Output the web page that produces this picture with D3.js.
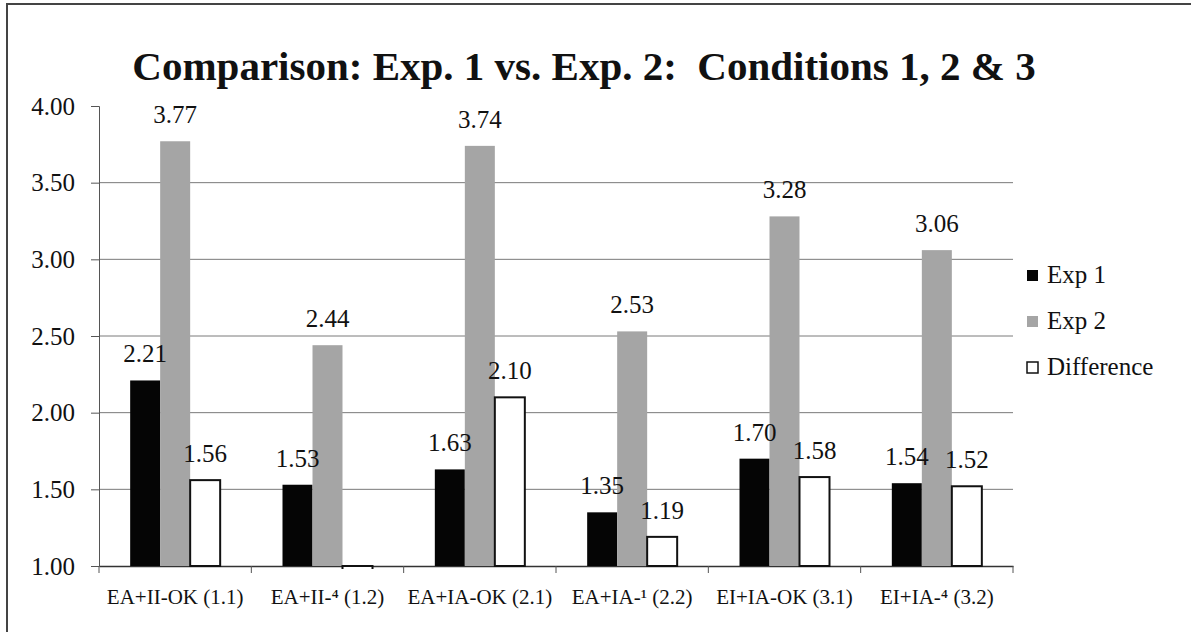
<!DOCTYPE html>
<html>
<head>
<meta charset="utf-8">
<script src="https://cdn.jsdelivr.net/npm/d3@7"></script>
<style>
  body { margin: 0; background: #fff; }
</style>
</head>
<body>
<svg width="1191" height="632"></svg>
<script>
var categories = ["EA+II-OK (1.1)", "EA+II-\u2074 (1.2)", "EA+IA-OK (2.1)", "EA+IA-\u00b9 (2.2)", "EI+IA-OK (3.1)", "EI+IA-\u2074 (3.2)"];
var exp1 = [2.21, 1.53, 1.63, 1.35, 1.70, 1.54];
var exp2 = [3.77, 2.44, 3.74, 2.53, 3.28, 3.06];
var diff = [1.56, 0.91, 2.10, 1.19, 1.58, 1.52];
var seriesNames = ["Exp 1", "Exp 2", "Difference"];
var yTicks = [1.00, 1.50, 2.00, 2.50, 3.00, 3.50, 4.00];

var SERIF = "'Liberation Serif', 'Times New Roman', serif";

var svg = d3.select("svg"),
    width = +svg.attr("width"),
    height = +svg.attr("height");

var margin = {left: 99, right: 178, top: 106, bottom: 66};
var plotW = width - margin.left - margin.right,
    plotH = height - margin.top - margin.bottom;

var fills = ["#050505", "#a5a5a5", "#ffffff"];

// frame (scan shows only top and left edges)
svg.append("path")
    .attr("d", "M7,632V4H1191")
    .attr("fill", "none")
    .attr("stroke", "#444")
    .attr("stroke-width", 2);

svg.append("text")
    .attr("x", 584)
    .attr("y", 80)
    .attr("text-anchor", "middle")
    .attr("xml:space", "preserve")
    .style("font-family", SERIF)
    .style("font-weight", "bold")
    .style("font-size", "41px")
    .attr("fill", "#111")
    .text("Comparison: Exp. 1 vs. Exp. 2:  Conditions 1, 2 & 3");

var g = svg.append("g").attr("transform", "translate(" + margin.left + "," + margin.top + ")");

var x0 = d3.scaleBand().domain(categories).range([0, plotW]);
var x1 = d3.scaleBand().domain(seriesNames).range([0, 90]);
var y = d3.scaleLinear().domain([1, 4]).range([plotH, 0]);

// gridlines
g.selectAll(".grid")
    .data(yTicks.slice(1, -1))
    .enter().append("line")
    .attr("x1", 0).attr("x2", plotW)
    .attr("y1", function(d) { return y(d); })
    .attr("y2", function(d) { return y(d); })
    .attr("stroke", "#7a7a7a")
    .attr("stroke-width", 1);

var yAxis = g.append("g")
    .call(d3.axisLeft(y).tickValues(yTicks).tickFormat(d3.format(".2f")).tickSize(8).tickPadding(16));
yAxis.select(".domain").attr("stroke", "#555");
yAxis.selectAll(".tick line").attr("stroke", "#555");
yAxis.selectAll(".tick").filter(function(d) { return d == 4; }).select("line").remove();
yAxis.selectAll("text").style("font-size", "25px").style("font-family", SERIF).attr("fill", "#111");

var xAxis = g.append("g")
    .attr("transform", "translate(0," + plotH + ")")
    .call(d3.axisBottom(x0).tickSize(0).tickPadding(23));
xAxis.select(".domain").attr("stroke", "#333").attr("stroke-width", 1.5);
xAxis.selectAll("text").style("font-size", "21px").style("font-family", SERIF).attr("fill", "#111");
// category separator ticks
xAxis.selectAll(".sep")
    .data(d3.range(categories.length + 1))
    .enter().append("line")
    .attr("x1", function(i) { return i * x0.bandwidth(); })
    .attr("x2", function(i) { return i * x0.bandwidth(); })
    .attr("y1", 0).attr("y2", 7)
    .attr("stroke", "#555");

// bars below the axis minimum only peek out under the baseline
g.append("clipPath").attr("id", "clip")
    .append("rect").attr("x", -2).attr("y", -2).attr("width", plotW + 4).attr("height", plotH + 5);

var rows = categories.map(function(c, i) {
    return [exp1[i], exp2[i], diff[i]].map(function(v, j) { return {cat: c, name: seriesNames[j], value: v, s: j}; });
});

var groups = g.selectAll(".grp")
    .data(rows)
    .enter().append("g")
    .attr("transform", function(d) { return "translate(" + (x0(d[0].cat) + (x0.bandwidth() - 90) / 2) + ",0)"; });

groups.selectAll("rect")
    .data(function(d) { return d; })
    .enter().append("rect")
    .attr("clip-path", "url(#clip)")
    .attr("x", function(d) { return x1(d.name); })
    .attr("width", x1.bandwidth())
    .attr("y", function(d) { return Math.min(y(d.value), y(1)); })
    .attr("height", function(d) { return Math.abs(y(1) - y(d.value)); })
    .attr("fill", function(d) { return fills[d.s]; })
    .attr("stroke", function(d) { return d.s == 2 ? "#111" : "none"; })
    .attr("stroke-width", 2);

groups.selectAll(".lbl")
    .data(function(d) { return d.filter(function(e) { return e.value >= 1; }); })
    .enter().append("text")
    .attr("x", function(d) { return x1(d.name) + x1.bandwidth() / 2; })
    .attr("y", function(d) { return y(d.value) - 18; })
    .attr("text-anchor", "middle")
    .style("font-family", SERIF)
    .style("font-size", "25px")
    .attr("fill", "#111")
    .text(function(d) { return d3.format(".2f")(d.value); });

// legend
var legend = svg.append("g").attr("transform", "translate(1027,270)");
var li = legend.selectAll(".li")
    .data(seriesNames)
    .enter().append("g")
    .attr("transform", function(d, i) { return "translate(0," + i * 46 + ")"; });
li.append("rect")
    .attr("width", 11).attr("height", 11)
    .attr("fill", function(d, i) { return fills[i]; })
    .attr("stroke", function(d, i) { return i == 2 ? "#111" : "none"; })
    .attr("stroke-width", 1.5);
li.append("text")
    .attr("x", 20).attr("y", 13)
    .style("font-family", SERIF)
    .style("font-size", "25px")
    .attr("fill", "#111")
    .text(function(d) { return d; });
</script>
</body>
</html>
